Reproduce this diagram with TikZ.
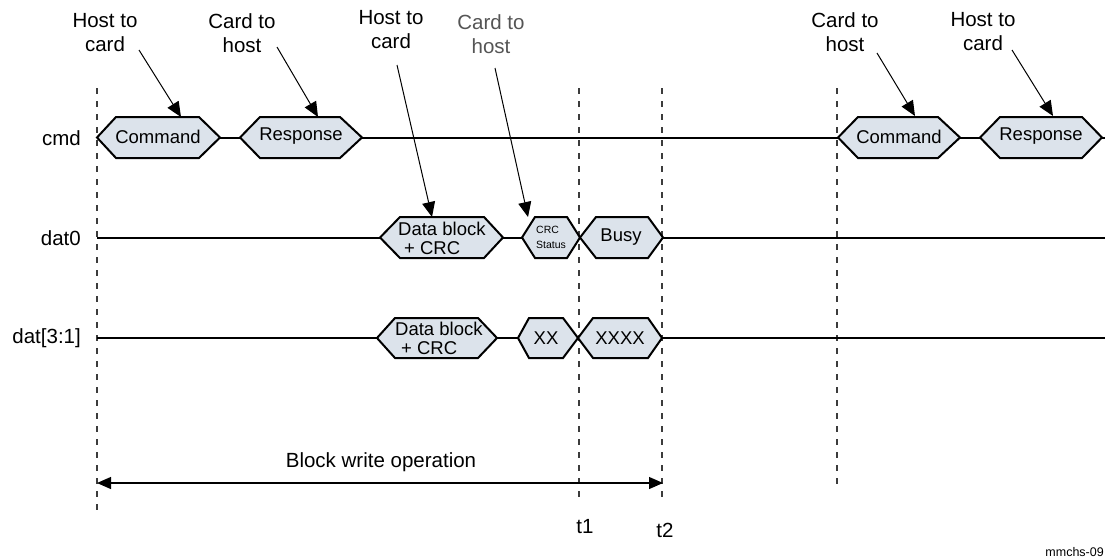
\documentclass[tikz,border=0pt]{standalone}
\usepackage{fontspec}
\setmainfont{Liberation Sans}
\usetikzlibrary{arrows.meta}
\definecolor{hexfill}{RGB}{220,227,235}
\definecolor{dashgray}{RGB}{60,60,60}
\definecolor{softtext}{RGB}{85,85,85}
\newcommand{\hexsig}[7]{%
  \coordinate (#1-w) at (#2,#6);
  \coordinate (#1-e) at (#5,#6);
  \draw[hexbox] (#2,#6) -- (#3,#6-#7) -- (#4,#6-#7) -- (#5,#6) -- (#4,#6+#7) -- (#3,#6+#7) -- cycle;
}
\begin{document}
\begin{tikzpicture}[x=1pt,y=-1pt,
  hexbox/.style={draw=black, line width=2pt, fill=hexfill, line join=miter},
  sig/.style={line width=2pt},
  guide/.style={draw=dashgray, line width=1.1pt, dash pattern=on 6pt off 7pt},
  callout/.style={line width=1pt, -{Triangle[length=15pt,width=13pt]}},
  span/.style={line width=1.2pt, {Triangle[length=14pt,width=12pt]}-{Triangle[length=14pt,width=12pt]}},
  lbl/.style={font=\fontsize{20.5}{24}\selectfont, align=center, inner sep=0pt},
  sigtxt/.style={font=\fontsize{18.5}{20}\selectfont, inner sep=0pt},
  tiny/.style={font=\fontsize{10.5}{15}\selectfont, inner sep=0pt, align=left}
]
\useasboundingbox (0,0) rectangle (1105,558);

% dashed time guides
\coordinate (g0t) at (97,88);   \coordinate (g0b) at (97,511);
\coordinate (g1t) at (579,88);  \coordinate (g1b) at (579,502);
\coordinate (g2t) at (662,88);  \coordinate (g2b) at (662,502);
\coordinate (g3t) at (837,88);  \coordinate (g3b) at (837,488);
\draw[guide] (g0t) -- (g0b);
\draw[guide] (g1t) -- (g1b);
\draw[guide] (g2t) -- (g2b);
\draw[guide] (g3t) -- (g3b);

% row labels
\node[lbl, anchor=east] (lcmd) at (81,138) {cmd};
\node[lbl, anchor=east] (ldat0) at (81,238) {dat0};
\node[lbl, anchor=east] (ldat31) at (81,338) {dat[3:1]};

% signal shapes
\hexsig{cmdA}{97}{116}{199}{220}{137.5}{20.5}
\hexsig{rspA}{240}{260}{340}{362}{137.5}{20.5}
\hexsig{cmdB}{838}{858}{938}{960}{137.5}{20.5}
\hexsig{rspB}{980}{1000}{1082}{1102}{137.5}{20.5}
\hexsig{datA}{380}{400}{484}{503}{237.5}{20.5}
\hexsig{crc}{522}{535}{567}{580}{237.5}{20.5}
\hexsig{busy}{580}{596}{648}{663}{237.5}{20.5}
\hexsig{datB}{377}{395}{478}{497}{338}{20}
\hexsig{xx}{518}{529}{563}{578}{338}{20}
\hexsig{xxxx}{578}{593}{648}{662}{338}{20}

% signal lines
\coordinate (cmdEnd) at (1105,137.5);
\coordinate (d0Start) at (97,237.5);  \coordinate (d0End) at (1105,237.5);
\coordinate (d1Start) at (97,338);    \coordinate (d1End) at (1105,338);
\draw[sig] (cmdA-e) -- (rspA-w);
\draw[sig] (rspA-e) -- (cmdB-w);
\draw[sig] (cmdB-e) -- (rspB-w);
\draw[sig] (rspB-e) -- (cmdEnd);
\draw[sig] (d0Start) -- (datA-w);
\draw[sig] (datA-e) -- (crc-w);
\draw[sig] (busy-e) -- (d0End);
\draw[sig] (d1Start) -- (datB-w);
\draw[sig] (datB-e) -- (xx-w);
\draw[sig] (xxxx-e) -- (d1End);

% texts in shapes
\node[sigtxt] (tcmdA) at (158,137) {Command};
\node[sigtxt] (trspA) at (301,136) {Response};
\node[sigtxt] (tcmdB) at (899,137) {Command};
\node[sigtxt] (trspB) at (1041,136) {Response};
\node[sigtxt, align=left, anchor=west] (tdatA) at (398,238) {Data block\\[-1pt]\hspace*{6pt}+ CRC};
\node[sigtxt, align=left, anchor=west] (tdatB) at (395,338) {Data block\\[-1pt]\hspace*{6pt}+ CRC};
\node[tiny, anchor=west] (tcrc) at (536,237) {CRC\\Status};
\node[sigtxt] (tbusy) at (621,237) {Busy};
\node[sigtxt] (txx) at (546,338) {XX};
\node[sigtxt] (txxxx) at (620,338) {XXXX};

% direction callouts
\node[lbl] (c1) at (105,33) {Host to\\card};
\node[lbl] (c2) at (242,33) {Card to\\host};
\node[lbl] (c3) at (391,30) {Host to\\card};
\node[lbl, text=softtext] (c4) at (491,34) {Card to\\host};
\node[lbl] (c5) at (845,32) {Card to\\host};
\node[lbl] (c6) at (983,32) {Host to\\card};

\coordinate (a1s) at (139,50);   \coordinate (a1e) at (181,117);
\coordinate (a2s) at (277,47);   \coordinate (a2e) at (318,117);
\coordinate (a3s) at (397,65);   \coordinate (a3e) at (432,217);
\coordinate (a4s) at (495,68);   \coordinate (a4e) at (528,217);
\coordinate (a5s) at (877,53);   \coordinate (a5e) at (915,116);
\coordinate (a6s) at (1012,50);  \coordinate (a6e) at (1053,116);
\draw[callout] (a1s) -- (a1e);
\draw[callout] (a2s) -- (a2e);
\draw[callout] (a3s) -- (a3e);
\draw[callout] (a4s) -- (a4e);
\draw[callout] (a5s) -- (a5e);
\draw[callout] (a6s) -- (a6e);

% block write span
\coordinate (bwl) at (97,483);
\coordinate (bwr) at (663,483);
\draw[span] (bwl) -- (bwr);
\node[lbl] (bwt) at (381,462) {Block write operation};
\node[lbl] (t1) at (585,527) {t1};
\node[lbl] (t2) at (665,530) {t2};
\node[font=\fontsize{12.5}{14}\selectfont, inner sep=0pt, anchor=east] (fig) at (1104,552) {mmchs-09};
\end{tikzpicture}
\end{document}
